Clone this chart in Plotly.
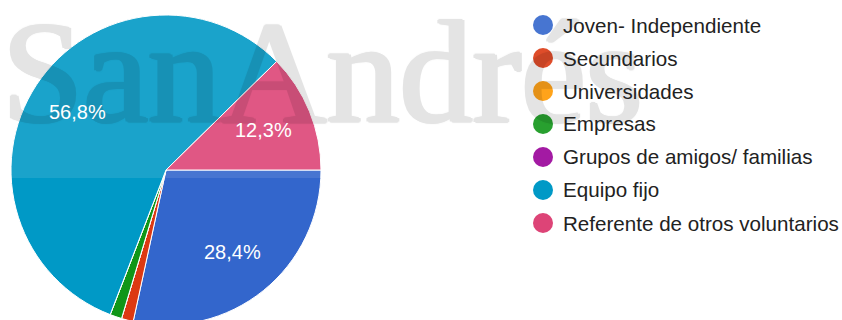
import math
import plotly.graph_objects as go

# Survey answers (counts) per volunteer origin
categories = [
    "Joven- Independiente",
    "Secundarios",
    "Universidades",
    "Empresas",
    "Grupos de amigos/ familias",
    "Equipo fijo",
    "Referente de otros voluntarios",
]
counts = [23, 1, 0, 1, 0, 46, 10]
colors = ["#3366cc", "#dc3912", "#ff9900", "#109618", "#990099", "#0099c6", "#dd4477"]

W, H = 842, 330  # canvas is taller than the window so the pie bottom is clipped

# pie geometry in pixels
CX, CY, R = 166, 170, 155
START_DEG = 90  # first slice starts at 3 o'clock, clockwise

total = sum(counts)

fig = go.Figure(
    go.Pie(
        labels=categories,
        values=counts,
        marker=dict(colors=colors, line=dict(color="white", width=1)),
        sort=False,
        direction="clockwise",
        rotation=START_DEG,
        textinfo="none",
        hoverinfo="label+percent",
        showlegend=False,
        domain=dict(x=[(CX - R) / W, (CX + R) / W], y=[(H - CY - R) / H, (H - CY + R) / H]),
    )
)

def px_x(v):
    return v / W

def px_y(v):
    return (H - v) / H

shapes = []
annotations = []

# percentage labels placed along each large slice's bisector
acc = 0
for c in counts:
    share = c / total
    if share >= 0.05:
        mid = math.radians(START_DEG + 360 * (acc + c / 2) / total)
        lx = CX + 0.68 * R * math.sin(mid)
        ly = CY - 0.68 * R * math.cos(mid)
        annotations.append(dict(
            text=f"{share * 100:.1f}%".replace(".", ","),
            xref="paper", yref="paper", x=px_x(lx), y=px_y(ly),
            xanchor="center", yanchor="middle", showarrow=False,
            font=dict(family="Liberation Sans, Arial", size=20, color="white"),
        ))
    acc += c

# legend: coloured dots with labels
for i, (name, col) in enumerate(zip(categories, colors)):
    cy = 25 + 33 * i
    shapes.append(dict(
        type="circle", xref="paper", yref="paper", layer="above",
        x0=px_x(533), x1=px_x(553), y0=px_y(cy + 10), y1=px_y(cy - 10),
        fillcolor=col, line=dict(width=0),
    ))
    annotations.append(dict(
        text=name, xref="paper", yref="paper", x=px_x(561), y=px_y(cy),
        xanchor="left", yanchor="middle", showarrow=False,
        font=dict(family="Liberation Sans, Arial", size=20.6, color="#222222"),
    ))

# translucent watermark band and logo text (shadow thickens the strokes)
shapes.append(dict(
    type="rect", xref="paper", yref="paper", layer="above",
    x0=0, x1=1, y0=px_y(178), y1=1,
    fillcolor="rgba(255,255,255,0.1)", line=dict(width=0),
))
annotations.insert(0, dict(
    text="SanAndrés", xref="paper", yref="paper", x=px_x(0), y=px_y(73),
    xanchor="left", yanchor="middle", showarrow=False, opacity=0.1,
    font=dict(
        family="Liberation Serif, Times New Roman", size=146, color="#000000",
        shadow="2px 0 0 #000, -2px 0 0 #000, 0 1px 0 #000, 0 -1px 0 #000, 1px 1px 1px #000, -1px -1px 1px #000",
    ),
))

fig.update_layout(
    width=W,
    height=H,
    margin=dict(l=0, r=0, t=0, b=0),
    paper_bgcolor="white",
    plot_bgcolor="white",
    shapes=shapes,
    annotations=annotations,
)

fig.write_html(
    "out.html",
    post_script="document.documentElement.style.overflow='hidden';document.body.style.overflow='hidden';document.body.style.margin='0';",
)
